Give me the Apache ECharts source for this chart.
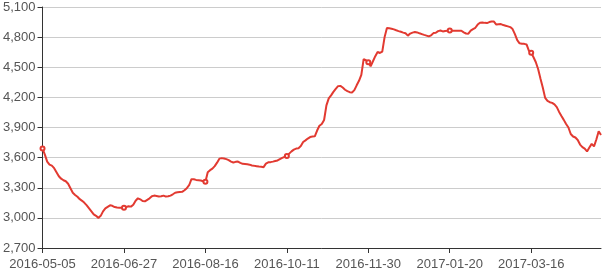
<!DOCTYPE html>
<html>
<head>
<meta charset="utf-8">
<script src="https://cdn.jsdelivr.net/npm/echarts@6/dist/echarts.min.js"></script>
<style>html,body{margin:0;padding:0;background:#fff}#c{width:605px;height:273px}</style>
</head>
<body>
<div id="c"></div>
<script>
// Label anchor dates (every 35th category)
var labelDates = ['2016-05-05','2016-06-27','2016-08-16','2016-10-11','2016-11-30','2017-01-20','2017-03-16'];
var holidays = ['2016-06-09','2016-06-10','2016-09-15','2016-09-16','2016-10-03','2016-10-04','2016-10-05','2016-10-06','2016-10-07','2017-01-02','2017-01-27','2017-01-30','2017-01-31','2017-02-01','2017-02-02','2017-04-03','2017-04-04','2017-05-01'];
var yTicks = {min: 2700, max: 5100, interval: 300};

var prices = [
3690,3630,3560,3530,3520,3495,3455,3415,3390,3375,
3365,3340,3295,3250,3228,3210,3186,3170,3150,3125,
3095,3065,3035,3020,3000,3020,3065,3095,3110,3125,
3120,3108,3103,3100,3102,3100,3108,3115,3112,3130,
3170,3195,3185,3168,3165,3180,3195,3215,3222,3218,
3212,3215,3222,3212,3215,3222,3235,3250,3255,3258,
3259,3275,3296,3325,3385,3385,3378,3375,3372,3365,
3360,3455,3475,3490,3515,3550,3590,3595,3592,3585,
3575,3560,3551,3558,3561,3548,3538,3537,3535,3530,
3522,3518,3515,3512,3510,3505,3540,3553,3555,3560,
3566,3572,3585,3597,3607,3615,3640,3662,3680,3690,
3694,3715,3755,3772,3790,3805,3810,3812,3870,3918,
3935,3975,4120,4190,4220,4255,4285,4312,4314,4298,
4276,4262,4252,4249,4272,4320,4365,4425,4580,4570,
4550,4510,4560,4610,4652,4642,4655,4800,4891,4888,
4884,4877,4868,4860,4853,4845,4838,4815,4835,4845,
4851,4847,4838,4830,4822,4815,4807,4818,4840,4843,
4860,4866,4857,4862,4864,4865,4864,4864,4864,4864,
4864,4848,4836,4834,4865,4880,4893,4925,4944,4946,
4942,4940,4950,4956,4955,4925,4928,4930,4920,4914,
4907,4900,4880,4830,4770,4738,4735,4733,4727,4665,
4645,4600,4550,4480,4385,4295,4195,4165,4152,4145,
4130,4103,4055,4015,3976,3935,3900,3835,3810,3800,
3775,3730,3705,3690,3662,3700,3737,3712,3780,3862,
3825
];

function parseD(s){var p=s.split('-');return Date.UTC(+p[0],+p[1]-1,+p[2]);}
function fmt(t){var d=new Date(t);var m=d.getUTCMonth()+1,dd=d.getUTCDate();return d.getUTCFullYear()+'-'+(m<10?'0':'')+m+'-'+(dd<10?'0':'')+dd;}
function segment(start,end,n){
  var day=86400000,out=[],wk=[],t=parseD(start),e=end?parseD(end):Infinity;
  while(t<e && out.length<n){
    var s=fmt(t),w=new Date(t).getUTCDay();
    if(holidays.indexOf(s)<0){ if(w>0&&w<6) out.push(t); else wk.push(t); }
    t+=day;
  }
  while(out.length<n && wk.length) out.push(wk.shift());
  out.sort(function(a,b){return a-b;});
  return out.slice(0,n).map(fmt);
}
var dates=[];
for(var k=0;k<labelDates.length;k++){
  var n = k<labelDates.length-1 ? 35 : prices.length-dates.length;
  dates=dates.concat(segment(labelDates[k], labelDates[k+1], n));
}

var chart = echarts.init(document.getElementById('c'));
var font = '"Liberation Sans", Arial, sans-serif';
chart.setOption({
  animation:false,
  grid:{left:41,right:4,top:7,bottom:25},
  xAxis:{
    type:'category', data:dates, boundaryGap:false,
    axisLine:{lineStyle:{color:'#333'}},
    axisTick:{show:true,length:5,interval:34,alignWithLabel:true},
    axisLabel:{interval:34,color:'#555',fontSize:13,margin:10,fontFamily:font},
    splitLine:{show:false}
  },
  yAxis:{
    type:'value', min:yTicks.min, max:yTicks.max, interval:yTicks.interval,
    axisLine:{show:true,lineStyle:{color:'#333'}},
    axisTick:{show:true,length:5},
    axisLabel:{color:'#555',fontSize:13,margin:7,fontFamily:font},
    splitLine:{lineStyle:{color:'#ccc'}}
  },
  series:[{
    type:'line', data:prices, symbol:'emptyCircle', symbolSize:4,
    lineStyle:{color:'#e23a31',width:2},
    itemStyle:{color:'#e23a31'}
  }]
});
</script>
</body>
</html>
